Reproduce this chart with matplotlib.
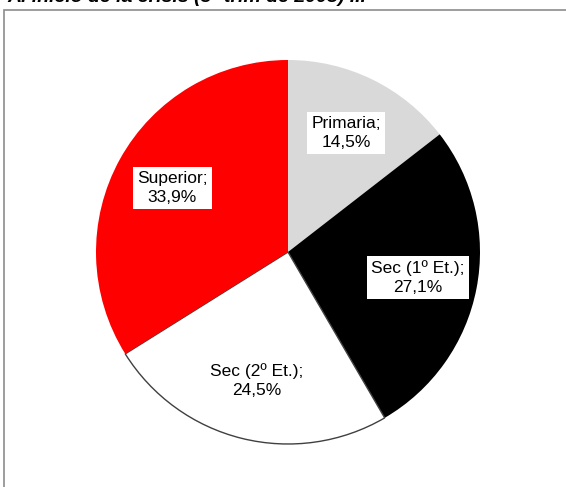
import matplotlib.pyplot as plt
from matplotlib.patches import Rectangle

# share of workers by education level
categories = ['Primaria', 'Sec (1º Et.)', 'Sec (2º Et.)', 'Superior']
values = [14.5, 27.1, 24.5, 33.9]
value_labels = ['14,5%', '27,1%', '24,5%', '33,9%']
colors = ['#d9d9d9', '#000000', '#ffffff', '#ff0000']
title = 'Al inicio de la crisis (3º trim de 2008) ...'

W, H = 566, 487
fig = plt.figure(figsize=(W / 100, H / 100), dpi=100)
ax = fig.add_axes([0, 0, 1, 1])

# chart area frame (runs off the right and bottom)
ax.add_patch(Rectangle((3.5, -20), W + 20, H - 9.5 + 20, fill=False,
                       edgecolor='#8c8c8c', lw=1.2))

# cut-off title at the very top
ax.text(7, H + 3, title, ha='left', va='center', fontsize=14,
        fontweight='bold', fontstyle='italic', family='Liberation Sans')

labels = [f'{c};\n{v}' for c, v in zip(categories, value_labels)]
wedges, texts = ax.pie(values, colors=colors, startangle=90,
                       counterclock=False, center=(288, H - 252),
                       radius=192, labels=labels, labeldistance=0.69,
                       wedgeprops=dict(linewidth=0),
                       frame=True)
wedges[2].set_edgecolor('#404040')
wedges[2].set_linewidth(1.0)

for t in texts:
    t.set_ha('center')
    t.set_va('center')
    t.set_family('Liberation Sans')
    t.set_fontsize(12.5)
    t.set_linespacing(1.35)
    t.set_bbox(dict(facecolor='white', edgecolor='none', pad=3))

ax.set_xlim(0, W)
ax.set_ylim(0, H)
ax.set_aspect('equal')
ax.axis('off')

fig.savefig('out.png', dpi=100)
